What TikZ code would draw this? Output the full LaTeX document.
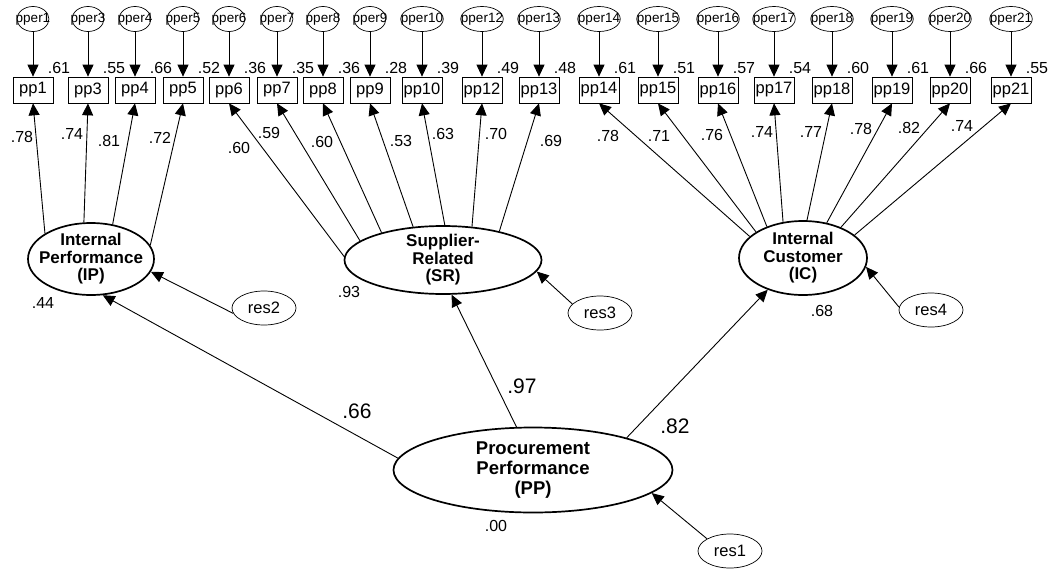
\documentclass[tikz,border=0pt]{standalone}
\usepackage{fontspec}
\setmainfont{Liberation Sans}
\usetikzlibrary{arrows.meta,shapes.geometric}
\tikzset{
  arr/.style={-{Triangle[length=12pt,width=11pt]},line width=0.9pt},
  obs/.style={draw,line width=0.7pt,minimum width=40pt,minimum height=26pt,inner sep=1pt,font=\fontsize{16.5}{16.5}\selectfont},
  err/.style={draw,ellipse,line width=0.7pt,inner xsep=-6pt,inner ysep=2pt,minimum height=25pt,font=\fontsize{13.5}{13.5}\selectfont},
  res/.style={draw,ellipse,line width=0.7pt,inner sep=0pt,minimum width=64pt,minimum height=34pt,font=\fontsize{16.5}{16.5}\selectfont},
  lat/.style={draw,ellipse,line width=1.7pt,inner sep=-20pt,align=center,font=\bfseries\fontsize{17}{17.5}\selectfont},
  num/.style={font=\fontsize{16}{16}\selectfont},
  big/.style={font=\fontsize{21}{21}\selectfont}
}
\begin{document}
\begin{tikzpicture}[x=1pt,y=-1pt]
  \useasboundingbox (0,0) rectangle (1055,573);

  % first-order factors and the second-order one
  \node[lat,minimum width=126pt,minimum height=72pt] (IP) at (91,259) {Internal\\Performance\\(IP)};
  \node[lat,minimum width=197pt,minimum height=68pt] (SR) at (443,260) {Supplier-\\Related\\(SR)};
  \node[lat,minimum width=128pt,minimum height=74pt] (IC) at (803,258) {Internal\\Customer\\(IC)};
  \node[lat,minimum width=279pt,minimum height=85pt,font=\bfseries\fontsize{18.5}{20}\selectfont] (PP) at (533,470) {Procurement\\Performance\\(PP)};

  % indicators with their error terms
  \foreach \n/\x/\v in {1/33/.61,3/88/.55,4/135/.66,5/183/.52,6/229/.36,7/277/.35,8/323/.36,
      9/370/.28,10/422/.39,12/482/.49,13/539/.48,14/599/.61,15/658/.51,16/718/.57,
      17/774/.54,18/832/.60,19/892/.61,20/950/.66,21/1011/.55}{
    \node[err] (e\n) at (\x,19) {pper\n};
    \node[obs] (pp\n) at (\x,90) {pp\n};
    \node[num] (s\n) at (\x+26,68) {\v};
    \draw[arr] (e\n) -- (pp\n);
  }

  % loadings
  \foreach \f/\n/\a/\v/\lx/\ly in {IP/1/151/.78/22/137, IP/3/101/.74/72/134, IP/4/58/.81/109/141,
      IP/5/13/.72/160/138, SR/6/178/.60/239/148, SR/7/167/.59/269/133, SR/8/156/.60/322/142,
      SR/9/132/.53/401/141, SR/10/87/.63/443/134, SR/12/49/.70/496/134, SR/13/27/.69/551/141,
      IC/14/158/.78/608/136, IC/15/151/.71/659/136, IC/16/139/.76/712/135, IC/17/119/.74/762/132,
      IC/18/84/.77/811/132, IC/19/56/.78/861/129, IC/20/39/.82/909/128, IC/21/24/.74/962/126}{
    \draw[arr] (\f.\a) -- (pp\n.south);
    \node[num] (l\n) at (\lx,\ly) {\v};
  }

  % residuals
  \node[res] (r2) at (264,308) {res2};
  \node[res] (r3) at (600,313) {res3};
  \node[res] (r4) at (931,310) {res4};
  \node[res] (r1) at (730,551) {res1};
  \draw[arr] (r2.190) -- (IP.-12);
  \draw[arr] (r3.162) -- (SR.-7);
  \draw[arr] (r4.175) -- (IC.-8);
  \draw[arr] (r1.152) -- (PP.-11);

  % second-order paths
  \draw[arr] (PP.175) -- (IP.-72);
  \draw[arr] (PP.111) -- (SR.-76);
  \draw[arr] (PP.19) -- (IC.-138);
  \node[big] (w2) at (357,411) {.66};
  \node[big] (w3) at (522,386) {.97};
  \node[big] (w4) at (675,426) {.82};

  \node[num] (v2) at (43,303) {.44};
  \node[num] (v3) at (349,292) {.93};
  \node[num] (v4) at (822,311) {.68};
  \node[num] (v1) at (496,526) {.00};
\end{tikzpicture}
\end{document}
